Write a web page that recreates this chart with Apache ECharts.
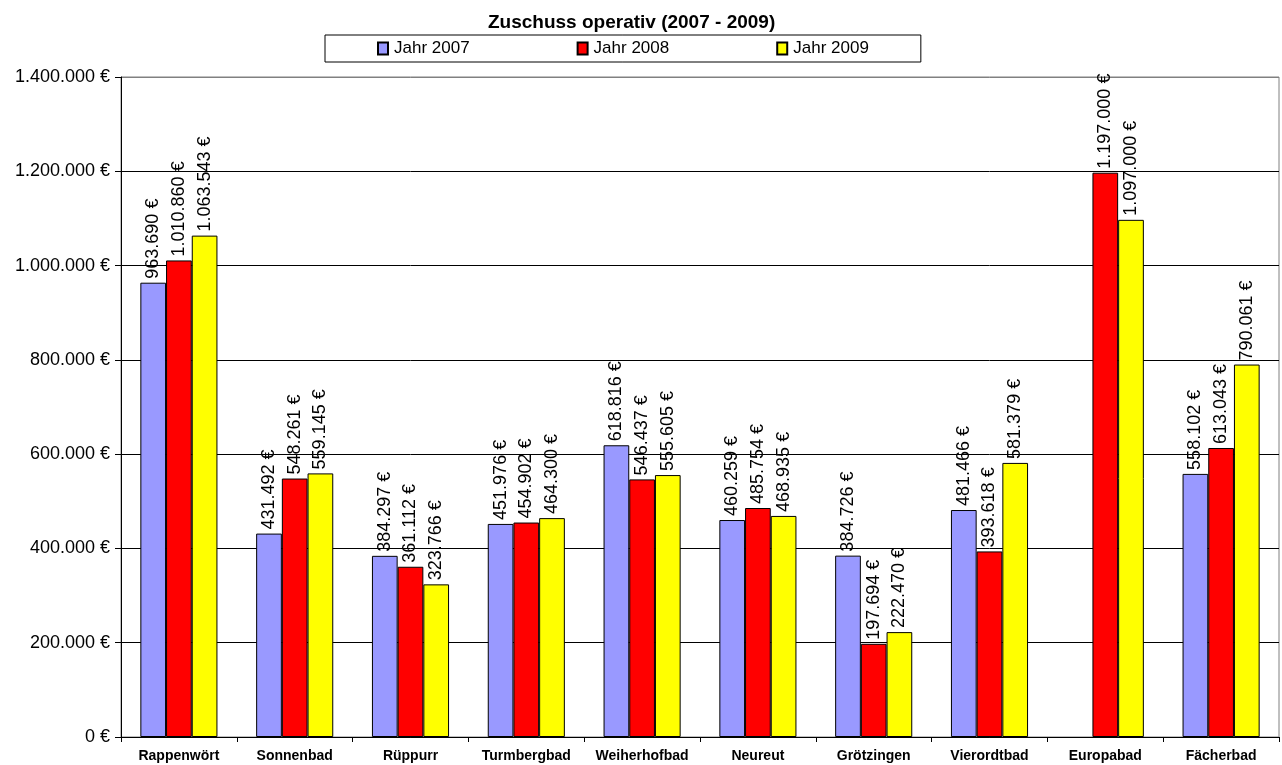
<!DOCTYPE html>
<html lang="de">
<head>
<meta charset="utf-8">
<title>Zuschuss operativ (2007 - 2009)</title>
<script src="https://cdn.jsdelivr.net/npm/echarts@6/dist/echarts.min.js"></script>
<style>
  html, body { margin: 0; padding: 0; background: #fff; }
  #chart { width: 1282px; height: 765px; }
</style>
</head>
<body>
<div id="chart"></div>
<script>
// Bäder
const categories = ["Rappenwört", "Sonnenbad", "Rüppurr", "Turmbergbad", "Weiherhofbad",
  "Neureut", "Grötzingen", "Vierordtbad", "Europabad", "Fächerbad"];
const seriesNames = ["Jahr 2007", "Jahr 2008", "Jahr 2009"];
const jahr2007 = [963690, 431492, 384297, 451976, 618816, 460259, 384726, 481466, null, 558102];
const jahr2008 = [1010860, 548261, 361112, 454902, 546437, 485754, 197694, 393618, 1197000, 613043];
const jahr2009 = [1063543, 559145, 323766, 464300, 555605, 468935, 222470, 581379, 1097000, 790061];
const yTicks = [0, 200000, 400000, 600000, 800000, 1000000, 1200000, 1400000];

const colors = ["#9999ff", "#ff0000", "#ffff00"];
const font = "'Liberation Sans', Arial, sans-serif";

// 963690 -> "963.690 €"
const euro = (v) => String(v).replace(/\B(?=(\d{3})+(?!\d))/g, ".") + " €";

const chart = echarts.init(document.getElementById("chart"));

const makeSeries = (name, data, i) => ({
  name: name,
  type: "bar",
  data: data,
  barWidth: 25.7,
  barGap: "0%",
  itemStyle: {
    color: colors[i],
    borderColor: "#000",
    borderWidth: 1,
  },
  label: {
    show: true,
    position: "top",
    rotate: 90,
    align: "left",
    verticalAlign: "middle",
    distance: 4,
    color: "#000",
    fontFamily: font,
    fontSize: 18,
    formatter: (p) => euro(p.value),
  },
});

const option = {
  animation: false,
  backgroundColor: "#fff",
  title: {
    text: "Zuschuss operativ (2007 - 2009)",
    left: 483,
    top: 8,
    textStyle: {
      fontFamily: font,
      fontSize: 19,
      fontWeight: "bold",
      color: "#000",
    },
  },
  legend: {
    data: seriesNames,
    left: 325,
    top: 35,
    padding: [5, 52, 5, 52],
    itemGap: 107,
    itemWidth: 10,
    itemHeight: 12,
    icon: "rect",
    borderColor: "#000",
    borderWidth: 1,
    textStyle: {
      fontFamily: font,
      fontSize: 17,
      color: "#000",
      padding: [0, 0, 0, 1],
    },
  },
  grid: {
    left: 121,
    right: 3,
    top: 77,
    bottom: 28,
    containLabel: false,
    show: true,
    borderColor: "#808080",
    borderWidth: 1,
  },
  xAxis: {
    type: "category",
    data: categories,
    axisLine: { lineStyle: { color: "#000", width: 1 } },
    axisTick: { show: true, length: 5, lineStyle: { color: "#000" } },
    axisLabel: {
      color: "#000",
      fontFamily: font,
      fontSize: 14,
      fontWeight: "bold",
      margin: 12,
      interval: 0,
    },
  },
  yAxis: {
    type: "value",
    min: yTicks[0],
    max: yTicks[yTicks.length - 1],
    interval: yTicks[1] - yTicks[0],
    axisLine: { show: true, lineStyle: { color: "#000", width: 1 } },
    axisTick: { show: true, length: 6, lineStyle: { color: "#000" } },
    axisLabel: {
      color: "#000",
      fontFamily: font,
      fontSize: 18,
      margin: 11,
      formatter: (v) => euro(v),
    },
    splitLine: {
      show: true,
      lineStyle: {
        // top line is the grey plot border
        color: yTicks.map((t, i) => (i === yTicks.length - 1 ? "#808080" : "#000")),
        width: 1,
      },
    },
  },
  series: [
    makeSeries(seriesNames[0], jahr2007, 0),
    makeSeries(seriesNames[1], jahr2008, 1),
    makeSeries(seriesNames[2], jahr2009, 2),
  ],
};

chart.setOption(option);
</script>
</body>
</html>
